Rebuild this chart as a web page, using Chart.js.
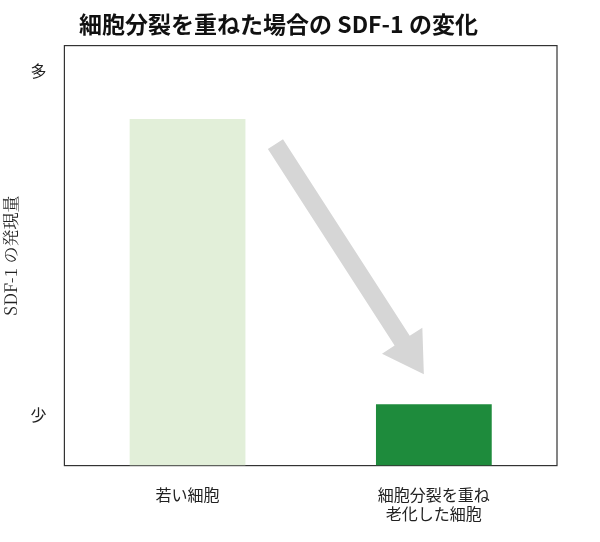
<!DOCTYPE html>
<html><head><meta charset="utf-8">
<script src="https://cdn.jsdelivr.net/npm/chart.js@4"></script>
<style>body{margin:0;background:#fff}#wrap{width:600px;height:542px}</style>
</head><body><div id="wrap"><canvas id="c"></canvas></div>
<script>
const categories = ['若い細胞', ['細胞分裂を重ね', '老化した細胞']];
const values = [82.5, 14.6];
const tickValues = [12, 94];
const tickLabels = ['少', '多'];
const colors = ['#e2efd9', '#1e8b3c'];

// ボックス枠と灰色の矢印
const extras = {
  id: 'extras',
  beforeDatasetsDraw(chart) {
    const { ctx, chartArea: a } = chart;
    ctx.save();
    ctx.strokeStyle = '#333'; ctx.lineWidth = 1.2;
    ctx.strokeRect(a.left, a.top, a.right - a.left, a.bottom - a.top);
    ctx.restore();
  },
  afterDatasetsDraw(chart) {
    const { ctx, scales: { x, y } } = chart;
    const bw = chart.getDatasetMeta(0).data[0].width;
    const x0 = x.getPixelForValue(0) + bw / 2 + 30, y0 = y.getPixelForValue(values[0]) + 25;
    const x1 = x.getPixelForValue(1) - 10, y1 = y.getPixelForValue(values[1]) - 30;
    const ang = Math.atan2(y1 - y0, x1 - x0), len = Math.hypot(x1 - x0, y1 - y0);
    ctx.save();
    ctx.translate(x0, y0); ctx.rotate(ang);
    ctx.fillStyle = '#d6d6d6';
    ctx.beginPath();
    ctx.moveTo(0, -9); ctx.lineTo(len - 40, -9); ctx.lineTo(len - 40, -24);
    ctx.lineTo(len, 0);
    ctx.lineTo(len - 40, 24); ctx.lineTo(len - 40, 9); ctx.lineTo(0, 9);
    ctx.closePath(); ctx.fill();
    ctx.restore();
  }
};

new Chart(document.getElementById('c'), {
  type: 'bar',
  data: { labels: categories, datasets: [{ data: values, backgroundColor: colors, barPercentage: 0.47, categoryPercentage: 1 }] },
  options: {
    responsive: true, maintainAspectRatio: false, animation: false,
    layout: { padding: { top: 0, right: 43, bottom: 6, left: 0 } },
    plugins: {
      legend: { display: false }, tooltip: { enabled: false },
      title: { display: true, text: '細胞分裂を重ねた場合の SDF-1 の変化', color: '#111',
        font: { family: 'Noto Sans CJK JP', size: 23, weight: 'bold' }, padding: { top: 10, bottom: 8 } }
    },
    scales: {
      x: { grid: { display: false }, border: { display: false },
        ticks: { color: '#222', font: { family: 'Noto Sans CJK JP', size: 16 }, padding: 12 } },
      y: { min: 0, max: 100, grid: { display: false }, border: { display: false },
        afterBuildTicks: s => { s.ticks = tickValues.map(v => ({ value: v })); },
        ticks: { color: '#222', font: { family: 'Noto Sans CJK JP', size: 16 }, padding: 10,
          callback: (v) => tickLabels[tickValues.indexOf(v)] },
        title: { display: true, text: 'SDF-1 の発現量', color: '#222',
          font: { family: 'Noto Serif CJK JP, Liberation Serif, Noto Sans CJK JP', size: 17 }, padding: 0 } }
    }
  },
  plugins: [extras]
});
</script></body></html>
